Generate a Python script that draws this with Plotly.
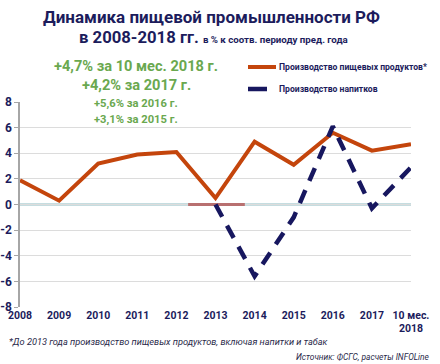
import plotly.graph_objects as go

years = ["2008", "2009", "2010", "2011", "2012", "2013", "2014", "2015", "2016", "2017", "10 мес.<br>2018"]
food = [1.9, 0.3, 3.2, 3.9, 4.1, 0.5, 4.9, 3.1, 5.6, 4.2, 4.7]
drinks = [None, None, None, None, None, 0.0, -5.6, -1.0, 6.1, -0.3, 2.9]
y_ticks = [-8, -6, -4, -2, 0, 2, 4, 6, 8]

NAVY = "#1c1c5c"
ORANGE = "#c4450c"
DNAVY = "#17175f"
GREEN = "#6aa84f"
FONT = "Roboto"

W, H = 440, 364
L, R, T, B = 20, 411, 102, 307   # plot area in pixels

def px(x):
    return (x - L) / (R - L)

def py(y):
    return (B - y) / (B - T)

xs = list(range(len(years)))

fig = go.Figure()
fig.add_trace(go.Scatter(x=xs, y=food, mode="lines",
                         line=dict(color=ORANGE, width=4), showlegend=False))
fig.add_trace(go.Scatter(x=xs, y=drinks, mode="lines",
                         line=dict(color=DNAVY, width=4.5, dash="14px,10px"), showlegend=False))

shapes = [
    dict(type="line", xref="paper", yref="y", x0=0, x1=1, y0=0, y1=0,
         line=dict(color="#c5dde0", width=3), layer="between"),
    dict(type="line", xref="x", yref="y", x0=4.3, x1=5.75, y0=0, y1=0,
         line=dict(color="#b87070", width=3), layer="between"),
    # legend samples
    dict(type="line", xref="paper", yref="paper", x0=px(248), x1=px(276), y0=py(67), y1=py(67),
         line=dict(color=ORANGE, width=4)),
    dict(type="line", xref="paper", yref="paper", x0=px(248), x1=px(267), y0=py(89), y1=py(89),
         line=dict(color=DNAVY, width=4.5)),
]

ann = []
def text(t, x, y, size, color, bold=True, italic=False, xanchor="center"):
    s = t
    if bold:
        s = "<b>" + s + "</b>"
    if italic:
        s = "<i>" + s + "</i>"
    ann.append(dict(text=s, x=px(x), y=py(y), xref="paper", yref="paper",
                    xanchor=xanchor, yanchor="middle", showarrow=False,
                    font=dict(family=FONT, size=size, color=color)))

text("Динамика пищевой промышленности РФ", 211, 17, 17, NAVY)
ann.append(dict(text="<b>в 2008-2018 гг.</b> <b><span style='font-size:9.7px'>в % к соотв. периоду пред. года</span></b>",
                x=px(77), y=py(38), xref="paper", yref="paper", xanchor="left", yanchor="middle",
                showarrow=False, font=dict(family=FONT, size=16.7, color=NAVY)))
text("+4,7% за 10 мес. 2018 г.", 136, 66, 14.6, GREEN)
text("+4,2% за 2017 г.", 136, 85, 14.6, GREEN)
text("+5,6% за 2016 г.", 136, 103, 11.2, GREEN)
text("+3,1% за 2015 г.", 136, 119, 11.2, GREEN)
text("Производство пищевых продуктов*", 277, 67, 8.6, NAVY, xanchor="left")
text("Производство напитков", 277, 89, 8.6, NAVY, xanchor="left")
text("*До 2013 года производство пищевых продуктов, включая напитки и табак", 7, 341, 9.2, "#2a2a4a",
     bold=False, italic=True, xanchor="left")
text("Источник: ФСГС, расчеты INFOLine", 432, 357, 8.4, "#2a2a4a", bold=False, italic=True, xanchor="right")

fig.update_layout(
    width=W, height=H,
    margin=dict(l=L, r=W - R, t=T, b=H - B, pad=0, autoexpand=False),
    paper_bgcolor="white", plot_bgcolor="white",
    shapes=shapes, annotations=ann, showlegend=False,
    xaxis=dict(range=[0, 10], tickmode="array", tickvals=xs, automargin=False,
               ticktext=["<b>" + y + "</b>" for y in years],
               showgrid=False, zeroline=False, showline=False, ticks="", tickangle=0,
               tickfont=dict(family=FONT, size=10.5, color=NAVY)),
    yaxis=dict(range=[-8, 8], tickmode="array", tickvals=y_ticks, automargin=False,
               ticktext=["<b>" + str(v) + "</b>" for v in y_ticks],
               showgrid=True, gridcolor="#dcdcdc", gridwidth=1, zeroline=False,
               showline=True, linecolor="#a6a6a6", linewidth=1.5,
               ticks="outside", ticklen=4, tickcolor="#a6a6a6",
               tickfont=dict(family=FONT, size=12, color=NAVY)),
)

fig.write_html("out.html", config={"displayModeBar": False},
               post_script="document.body.style.margin='0';")
